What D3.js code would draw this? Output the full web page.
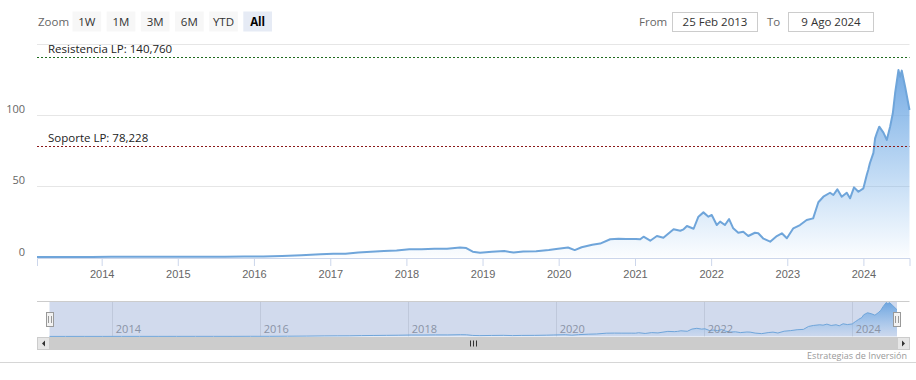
<!DOCTYPE html>
<html>
<head>
<meta charset="utf-8">
<script src="https://cdn.jsdelivr.net/npm/d3@7"></script>
<style>
  body { margin: 0; background: #fff; }
  svg { display: block; font-family: "Open Sans", "Noto Sans", Arial, sans-serif; }
</style>
</head>
<body>
<svg id="chart" width="916" height="380"></svg>
<script>
// ---------------- data ----------------
const dates = [
  "2013-02-25","2013-05-15","2013-08-15","2013-11-15","2014-02-15","2014-05-15","2014-08-15","2014-11-15",
  "2015-02-15","2015-05-15","2015-08-15","2015-11-15","2016-02-15","2016-05-15","2016-08-15","2016-11-15",
  "2017-01-15","2017-03-15","2017-05-15","2017-07-15","2017-09-15","2017-11-15","2018-01-15","2018-03-15",
  "2018-05-15","2018-07-15","2018-09-15","2018-10-15","2018-11-15","2018-12-20","2019-02-15","2019-04-15",
  "2019-05-30","2019-07-15","2019-09-15","2019-11-15","2019-12-20","2020-02-15","2020-03-18","2020-04-20",
  "2020-06-10","2020-07-18","2020-09-04","2020-10-14","2020-11-20","2021-01-05","2021-01-26","2021-02-11",
  "2021-03-15","2021-04-16","2021-05-17","2021-07-05","2021-08-06","2021-08-22","2021-09-07","2021-10-09",
  "2021-11-01","2021-11-25","2021-12-19","2022-01-04","2022-01-28","2022-02-13","2022-03-08","2022-03-28",
  "2022-04-17","2022-05-11","2022-06-04","2022-06-28","2022-07-30","2022-08-15","2022-09-09","2022-10-11",
  "2022-11-12","2022-12-06","2022-12-30","2023-01-30","2023-03-03","2023-04-04","2023-05-05","2023-05-30",
  "2023-06-23","2023-07-25","2023-08-10","2023-08-29","2023-09-19","2023-10-13","2023-10-29","2023-11-17",
  "2023-12-08","2024-01-01","2024-01-17","2024-01-24","2024-02-01","2024-02-18","2024-02-26","2024-03-05",
  "2024-03-17","2024-04-06","2024-04-22","2024-05-08","2024-05-21","2024-06-01","2024-06-17","2024-06-25",
  "2024-07-03","2024-07-19","2024-08-09"
];
const prices = [
  0.31,0.34,0.38,0.38,0.45,0.46,0.45,0.50,
  0.55,0.55,0.50,0.75,0.70,1.10,1.60,2.30,
  2.60,2.70,3.50,4.00,4.50,5.00,5.80,5.80,
  6.20,6.10,7.00,6.60,4.10,3.40,4.00,4.50,
  3.50,4.20,4.40,5.20,5.90,7.00,5.20,7.20,
  9.00,9.80,12.8,13.2,13.0,13.0,12.8,14.6,
  11.8,15.1,13.9,19.8,18.8,19.8,22.1,20.2,
  28.7,31.7,28.7,29.9,22.8,25.2,22.8,27.0,
  20.5,17.4,18.1,15.1,17.4,17.0,13.2,11.1,
  15.1,17.0,13.5,20.5,22.8,26.3,27.5,38.8,
  42.7,45.5,43.9,47.9,42.7,45.5,41.6,49.3,
  46.2,48.6,58.0,61.5,66.2,73.5,83.7,87.3,
  91.9,87.7,82.6,91.9,101.3,115.4,131.7,127.0,
  131.3,120.0,103.6
];
const xTickYears = [2014,2015,2016,2017,2018,2019,2020,2021,2022,2023,2024];
const navTickYears = [2014,2016,2018,2020,2022,2024];
const yGridValues = [0,50,100,150];
const yLabelValues = [0,50,100];
const plotLineValues = [140.76, 78.228];
const plotLineLabels = ["Resistencia LP: 140,760", "Soporte LP: 78,228"];
const plotLineColors = ["#1e6b1e", "#8b1a1a"];
const zoomButtons = ["1W","1M","3M","6M","YTD","All"];
const fromDate = "25 Feb 2013";
const toDate = "9 Ago 2024";
const startDate = "2013-02-25", endDate = "2024-08-09";
const credits = "Estrategias de Inversión";

// ---------------- setup ----------------
const parse = d3.timeParse("%Y-%m-%d");
const data = dates.map((d, i) => ({ date: parse(d), value: prices[i] }));
const svg = d3.select("#chart");
const defs = svg.append("defs");

const plotLeft = 37, plotRight = 909.5, plotTop = 44, plotBottom = 257.5;
const x = d3.scaleTime().domain([parse(startDate), parse(endDate)]).range([plotLeft, plotRight]);
const y = d3.scaleLinear().domain([0, 150]).range([plotBottom, plotTop]);

// gradients
function grad(id, c0, o0, c1, o1) {
  const g = defs.append("linearGradient").attr("id", id).attr("x1", 0).attr("y1", 0).attr("x2", 0).attr("y2", 1);
  g.append("stop").attr("offset", 0).attr("stop-color", c0).attr("stop-opacity", o0);
  g.append("stop").attr("offset", 1).attr("stop-color", c1).attr("stop-opacity", o1);
}
grad("areaGrad", "#74aae3", 1, "#7cb5ec", 0.03);
grad("navGrad", "#6fa5df", 1, "#7cb5ec", 0.05);

// ---------------- range selector ----------------
const rs = svg.append("g");
rs.append("text").attr("x", 38).attr("y", 25.5).attr("font-size", 11.5).attr("fill", "#666").text("Zoom");
const btnX = d3.scaleBand().domain(zoomButtons).range([72.5, 272]).paddingInner(0.16);
zoomButtons.forEach(b => {
  const sel = b === "All";
  rs.append("rect").attr("x", btnX(b)).attr("y", 11.5).attr("width", btnX.bandwidth()).attr("height", 20)
    .attr("fill", sel ? "#e6ebf5" : "#f7f7f7");
  rs.append("text").attr("x", btnX(b) + btnX.bandwidth() / 2).attr("y", 25.5).attr("text-anchor", "middle")
    .attr("font-size", 11.5).attr("font-weight", sel ? "bold" : "normal").attr("fill", sel ? "#000" : "#333").text(b);
});
rs.append("text").attr("x", 639).attr("y", 25.5).attr("font-size", 11.5).attr("fill", "#666").text("From");
rs.append("rect").attr("x", 672.5).attr("y", 12.5).attr("width", 85).attr("height", 19).attr("fill", "#fff").attr("stroke", "#ccc");
rs.append("text").attr("x", 715).attr("y", 25.5).attr("text-anchor", "middle").attr("font-size", 11.5).attr("fill", "#333").text(fromDate);
rs.append("text").attr("x", 767).attr("y", 25.5).attr("font-size", 11.5).attr("fill", "#666").text("To");
rs.append("rect").attr("x", 788.5).attr("y", 12.5).attr("width", 85).attr("height", 19).attr("fill", "#fff").attr("stroke", "#ccc");
rs.append("text").attr("x", 831).attr("y", 25.5).attr("text-anchor", "middle").attr("font-size", 11.5).attr("fill", "#333").text(toDate);

// ---------------- main plot ----------------
const grid = svg.append("g");
grid.selectAll("line").data(yGridValues.filter(v => v > 0)).join("line")
  .attr("x1", plotLeft).attr("x2", plotRight)
  .attr("y1", d => Math.round(y(d)) + 0.5).attr("y2", d => Math.round(y(d)) + 0.5)
  .attr("stroke", "#e6e6e6").attr("stroke-width", 1);

svg.append("g").selectAll("text").data(yLabelValues).join("text")
  .attr("x", 25).attr("y", d => y(d) - 2).attr("text-anchor", "end")
  .attr("font-size", 11).attr("fill", "#666").text(d => d);

// x-axis
const xAxis = d3.axisBottom(x)
  .tickValues(xTickYears.map(yr => new Date(yr, 0, 1)))
  .tickFormat(d3.timeFormat("%Y")).tickSize(8).tickPadding(4);
const xg = svg.append("g").attr("transform", `translate(0,${plotBottom + 0.5})`).call(xAxis);
xg.select(".domain").attr("stroke", "#ccd6eb");
xg.selectAll(".tick line").attr("stroke", "#ccd6eb");
xg.selectAll(".tick text").attr("font-size", 11).attr("fill", "#666").attr("font-family", null);

// area + line
const area = d3.area().x(d => x(d.date)).y0(plotBottom).y1(d => y(d.value));
const line = d3.line().x(d => x(d.date)).y(d => y(d.value));
svg.append("path").datum(data).attr("d", area).attr("fill", "url(#areaGrad)");
svg.append("path").datum(data).attr("d", line).attr("fill", "none")
  .attr("stroke", "#6fa5da").attr("stroke-width", 2).attr("stroke-linejoin", "round");

// plot lines
plotLineValues.forEach((v, i) => {
  const yy = Math.round(y(v)) + 0.5;
  svg.append("line").attr("x1", plotLeft).attr("x2", plotRight).attr("y1", yy).attr("y2", yy)
    .attr("stroke", plotLineColors[i]).attr("stroke-width", 1).attr("stroke-dasharray", "2,2");
  svg.append("text").attr("x", 48).attr("y", yy - 4.5).attr("font-size", 11.5).attr("fill", "#222")
    .text(plotLineLabels[i]);
});

// ---------------- navigator ----------------
const navTop = 301, navBottom = 336.5, navLeft = 49.5, navRight = 897;
const nx = d3.scaleTime().domain([parse(startDate), parse(endDate)]).range([navLeft, navRight]);
const ny = d3.scaleLinear().domain([0, d3.max(prices)]).range([navBottom, navTop + 1.5]);
const nav = svg.append("g");
// grid
nav.selectAll("line.ng").data(navTickYears).join("line").attr("class", "ng")
  .attr("x1", d => Math.round(nx(new Date(d, 0, 1))) + 0.5).attr("x2", d => Math.round(nx(new Date(d, 0, 1))) + 0.5)
  .attr("y1", navTop).attr("y2", navBottom).attr("stroke", "#e6e6e6");
// mask
nav.append("rect").attr("x", navLeft).attr("y", navTop).attr("width", navRight - navLeft).attr("height", navBottom - navTop)
  .attr("fill", "rgba(102,133,194,0.3)");
// series
const narea = d3.area().x(d => nx(d.date)).y0(navBottom).y1(d => ny(d.value));
const nline = d3.line().x(d => nx(d.date)).y(d => ny(d.value));
nav.append("path").datum(data).attr("d", narea).attr("fill", "url(#navGrad)");
nav.append("path").datum(data).attr("d", nline).attr("fill", "none").attr("stroke", "#6fa5da").attr("stroke-width", 1);
// labels
nav.selectAll("text").data(navTickYears).join("text")
  .attr("x", d => nx(new Date(d, 0, 1)) + 3.5).attr("y", 333)
  .attr("font-size", 11).attr("fill", "#8a93a6").text(d => d);
// outline
nav.append("path").attr("d", `M${plotLeft},${navTop + 0.5}H${plotRight}`).attr("stroke", "#cccccc").attr("fill", "none");
// handles
[navLeft, navRight].forEach(hx => {
  const g = nav.append("g").attr("transform", `translate(${Math.round(hx)},${312})`);
  g.append("rect").attr("x", -3.5).attr("y", 0.5).attr("width", 7).attr("height", 14)
    .attr("fill", "#f2f2f2").attr("stroke", "#999");
  g.append("line").attr("x1", -1.5).attr("x2", -1.5).attr("y1", 4).attr("y2", 11).attr("stroke", "#999");
  g.append("line").attr("x1", 1.5).attr("x2", 1.5).attr("y1", 4).attr("y2", 11).attr("stroke", "#999");
});

// ---------------- scrollbar ----------------
const sbTop = 337, sbH = 13;
const sb = svg.append("g");
sb.append("rect").attr("x", plotLeft).attr("y", sbTop).attr("width", plotRight - plotLeft).attr("height", sbH).attr("fill", "#f2f2f2");
sb.append("rect").attr("x", navLeft).attr("y", sbTop).attr("width", navRight - navLeft).attr("height", sbH).attr("fill", "#cccccc");
[[plotLeft, -1], [navRight, 1]].forEach(([bx, dir]) => {
  sb.append("rect").attr("x", bx + 0.5).attr("y", sbTop + 0.5).attr("width", 12).attr("height", sbH - 1)
    .attr("fill", "#e6e6e6").attr("stroke", "#cccccc");
  const cx = bx + 6.5, cy = sbTop + sbH / 2;
  sb.append("path").attr("d", dir < 0 ? `M${cx + 1.5},${cy - 3}L${cx - 1.5},${cy}L${cx + 1.5},${cy + 3}Z`
                                      : `M${cx - 1.5},${cy - 3}L${cx + 1.5},${cy}L${cx - 1.5},${cy + 3}Z`)
    .attr("fill", "#333");
});
const gx = Math.round((navLeft + navRight) / 2);
[-3, 0, 3].forEach(o => sb.append("line").attr("x1", gx + o + 0.5).attr("x2", gx + o + 0.5)
  .attr("y1", sbTop + 3.5).attr("y2", sbTop + sbH - 3.5).attr("stroke", "#333"));

// credits + bottom rule
svg.append("text").attr("x", 907).attr("y", 359).attr("text-anchor", "end").attr("font-size", 9).attr("fill", "#999").text(credits);
svg.append("line").attr("x1", 0).attr("x2", 916).attr("y1", 362.5).attr("y2", 362.5).attr("stroke", "#d6d6d6");
</script>
</body>
</html>
